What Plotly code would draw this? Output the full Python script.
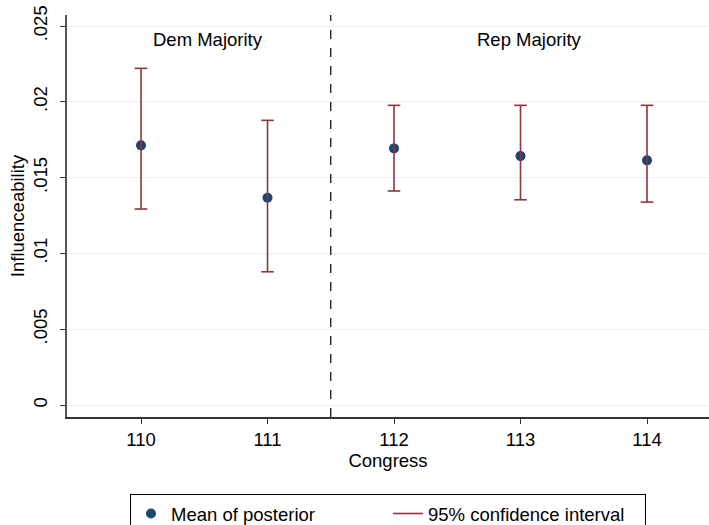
import plotly.graph_objects as go

congress = [110, 111, 112, 113, 114]
mean_post = [0.01713, 0.01367, 0.01693, 0.01642, 0.01614]
ci_low = [0.01293, 0.00879, 0.01412, 0.01354, 0.01339]
ci_high = [0.02221, 0.01878, 0.01977, 0.01977, 0.01977]
y_ticks = [0, 0.005, 0.01, 0.015, 0.02, 0.025]
y_tick_text = ["0", ".005", ".01", ".015", ".02", ".025"]
divider_x = 111.5
regions = [("Dem Majority", 110.53), ("Rep Majority", 113.07)]

NAVY = "#1a476f"
MAROON = "#90353b"
FS = 18.5

fig = go.Figure()

fig.add_trace(go.Scatter(
    x=congress, y=mean_post, mode="markers", name="Mean of posterior",
    marker=dict(color=NAVY, size=10, line=dict(width=0)),
))

# CI lines
xs, ys = [], []
for c, lo, hi in zip(congress, ci_low, ci_high):
    xs += [c, c, None]
    ys += [lo, hi, None]
fig.add_trace(go.Scatter(
    x=xs, y=ys, mode="lines", name="95% confidence interval",
    line=dict(color=MAROON, width=1.6),
))
# caps
fig.add_trace(go.Scatter(
    x=congress + congress, y=ci_low + ci_high, mode="markers", showlegend=False,
    marker=dict(symbol="line-ew", size=9, line=dict(color=MAROON, width=1.6)),
    hoverinfo="skip",
))

fig.add_shape(type="line", x0=divider_x, x1=divider_x, y0=0, y1=1, yref="paper",
              line=dict(color="black", width=1.2, dash="dash"))

for label, xpos in regions:
    fig.add_annotation(x=xpos, y=0.02414, text=label, showarrow=False,
                       font=dict(size=FS, color="black"))

fig.update_layout(
    width=709, height=525,
    margin=dict(l=67, r=0, t=15, b=108, autoexpand=False),
    paper_bgcolor="white", plot_bgcolor="white",
    font=dict(family="Arial, Liberation Sans, sans-serif", color="black", size=FS),
    showlegend=True,
    legend=dict(orientation="h", x=0.5, xanchor="center",
                yref="container", y=0.0591, yanchor="top",
                bordercolor="black", borderwidth=1, font=dict(size=FS),
                entrywidth=212, itemwidth=30),
)
fig.update_xaxes(
    range=[109.415, 114.49], tickvals=congress, ticktext=[str(c) for c in congress],
    showgrid=False, zeroline=False, showline=True, linecolor="#333333", linewidth=1.5,
    ticks="outside", ticklen=5, tickcolor="#333333", automargin=True,
    title=dict(text="Congress", font=dict(size=FS), standoff=0),
    tickfont=dict(size=FS),
)
fig.update_yaxes(
    range=[-0.00079, 0.02573], tickvals=y_ticks, ticktext=y_tick_text, tickangle=-90,
    showgrid=True, gridcolor="#eaf2f3", gridwidth=1, zeroline=False,
    showline=True, linecolor="#555555", linewidth=1.5, automargin=True,
    ticks="outside", ticklen=5, tickcolor="#333333", ticklabelstandoff=6,
    title=dict(text="Influenceability", font=dict(size=FS), standoff=0),
    tickfont=dict(size=FS),
)

fig.write_html("out.html")
